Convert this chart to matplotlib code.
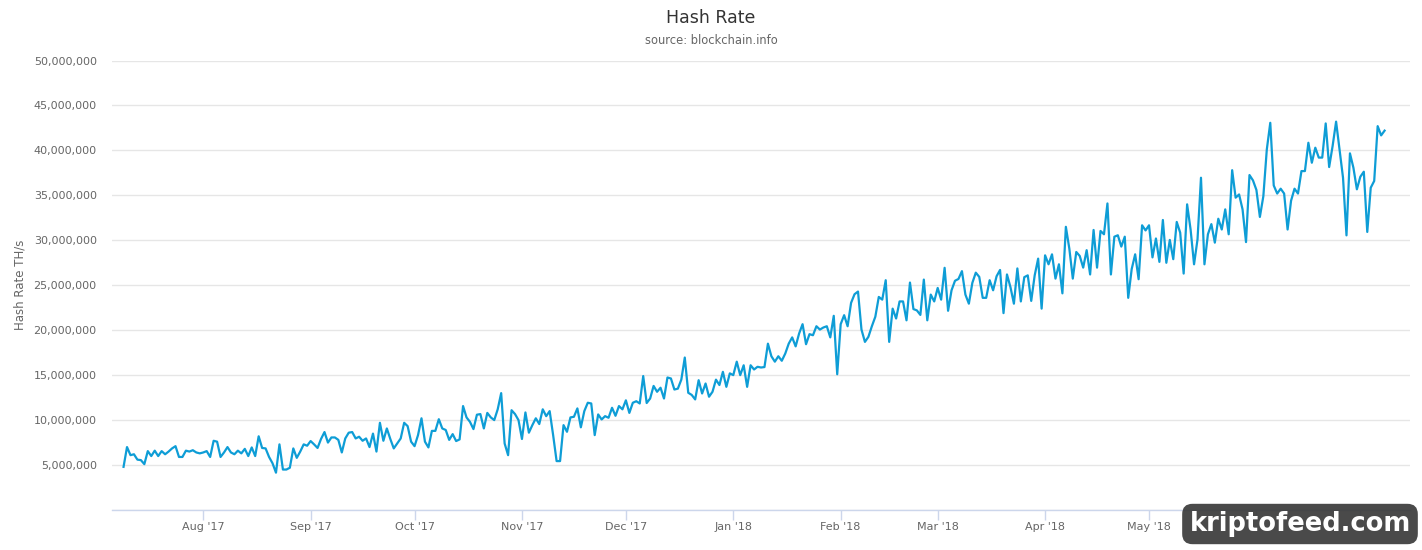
import matplotlib
matplotlib.use('Agg')
import matplotlib.pyplot as plt
import matplotlib.dates as mdates
from matplotlib.ticker import FuncFormatter, MultipleLocator
import numpy as np
import pandas as pd

# ---------------- data (hash rate, millions of TH/s, daily) ----------------
start_date = '2017-07-09'
scale = 1_000_000

hash_jul_sep_2017 = [
    4.8, 7.0, 6.1, 6.2, 5.6, 5.55, 5.1, 6.55, 6.0, 6.6,
    6.0, 6.55, 6.2, 6.5, 6.85, 7.1, 5.9, 5.9, 6.6, 6.5,
    6.65, 6.4, 6.3, 6.4, 6.55, 5.9, 7.7, 7.6, 5.9, 6.4,
    7.0, 6.4, 6.2, 6.6, 6.3, 6.8, 6.0, 6.96, 6.0, 8.2,
    6.9, 6.85, 5.9, 5.2, 4.15, 7.3, 4.5, 4.5, 4.7, 6.85,
    5.8, 6.5, 7.3, 7.15, 7.67, 7.3, 6.9, 7.9, 8.67, 7.5,
    8.07, 8.07, 7.8, 6.4, 7.96, 8.6, 8.67, 7.96, 8.15, 7.7,
    7.96, 7.0, 8.5, 6.5, 9.7, 7.7, 9.07, 7.9, 6.85, 7.4,
    7.96, 9.7, 9.33, 7.6,
]
hash_oct_dec_2017 = [
    7.1, 8.33, 10.2, 7.6, 6.96, 8.8, 8.8, 10.1, 9.07, 8.9,
    7.8, 8.44, 7.67, 7.85, 11.56, 10.3, 9.8, 9.0, 10.6, 10.67,
    9.07, 10.8, 10.3, 10.0, 11.2, 13.0, 7.4, 6.1, 11.1, 10.67,
    10.0, 7.9, 10.85, 8.6, 9.44, 10.2, 9.56, 11.2, 10.44, 11.0,
    8.33, 5.44, 5.44, 9.44, 8.7, 10.3, 10.37, 11.3, 9.2, 11.0,
    11.93, 11.85, 8.33, 10.63, 10.07, 10.44, 10.26, 11.37, 10.48, 11.56,
    11.2, 12.2, 10.8, 11.93, 12.1, 11.85, 14.9, 11.9, 12.4, 13.8,
    13.15, 13.6, 12.4, 14.74, 14.63, 13.4, 13.5, 14.5, 16.96, 13.04,
    12.8, 12.3, 14.44, 12.96, 14.07, 12.6, 13.15, 14.5, 13.9, 15.37,
    13.7, 15.2,
]
hash_jan_mar_2018 = [
    15.0, 16.5, 15.0, 16.1, 13.7, 16.1, 15.63, 15.93, 15.85, 15.9,
    18.5, 17.1, 16.5, 17.1, 16.6, 17.4, 18.5, 19.2, 18.2, 19.63,
    20.67, 18.44, 19.56, 19.44, 20.44, 20.07, 20.3, 20.44, 19.2, 21.6,
    15.1, 20.67, 21.67, 20.44, 23.04, 24.0, 24.3, 20.07, 18.7, 19.26,
    20.44, 21.5, 23.7, 23.4, 25.56, 18.7, 22.4, 21.3, 23.2, 23.2,
    21.1, 25.3, 22.35, 22.2, 21.7, 25.63, 21.1, 23.96, 23.2, 24.7,
    23.4, 26.94, 22.16, 24.44, 25.5, 25.7, 26.57, 23.96, 22.95, 25.26,
    26.4, 25.93, 23.6, 23.6, 25.56, 24.44, 26.0, 26.7, 21.9, 26.2,
    24.8, 22.95, 26.87, 23.2, 25.9, 26.1, 23.26, 26.1, 27.96, 22.4,
]
hash_apr_jun_2018 = [
    28.33, 27.33, 28.44, 25.74, 27.33, 24.1, 31.5, 29.07, 25.74, 28.7,
    28.26, 26.96, 28.9, 26.2, 31.15, 26.96, 31.04, 30.67, 34.1, 26.2,
    30.4, 30.56, 29.3, 30.4, 23.6, 26.8, 28.44, 25.67, 31.67, 31.1,
    31.67, 28.1, 30.2, 27.6, 32.26, 27.5, 30.04, 27.9, 32.04, 30.85,
    26.3, 34.0, 31.2, 27.33, 30.1, 36.96, 27.33, 30.67, 31.8, 29.74,
    32.4, 31.2, 33.44, 30.67, 37.8, 34.74, 35.1, 33.44, 29.8, 37.26,
    36.67, 35.6, 32.6, 34.9, 40.1, 43.07, 36.1, 35.2, 35.74, 35.2,
    31.2, 34.4, 35.74, 35.2, 37.7, 37.7, 40.85, 38.63, 40.3, 39.2,
    39.2, 43.0, 38.15, 40.5, 43.2, 40.1, 36.96, 30.55, 39.67, 38.07,
    35.67,
]
hash_jul_2018 = [37.07, 37.63, 30.93, 35.85, 36.6, 42.7, 41.67, 42.2]

title_text = 'Hash Rate'
subtitle_text = 'source: blockchain.info'
y_label = 'Hash Rate TH/s'
watermark_text = 'kriptofeed.com'
# month labels hidden behind the watermark in the reference
hidden_months = ["Jun '18", "Jul '18"]

values = np.array(hash_jul_sep_2017 + hash_oct_dec_2017 + hash_jan_mar_2018
                  + hash_apr_jun_2018 + hash_jul_2018) * scale
dates = pd.date_range(start_date, periods=len(values), freq='D')

# ---------------- figure ----------------
plt.rcParams['font.family'] = ['DejaVu Sans']
fig = plt.figure(figsize=(14.22, 5.5), dpi=100)
ax = fig.add_axes([112 / 1422, 1 - 510 / 550, (1410 - 112) / 1422, (510 - 60.5) / 550])

ax.plot(dates, values, color='#0e9dd6', lw=1.6, solid_joinstyle='round', zorder=3)

ax.set_ylim(0, 50 * scale)
ax.set_xlim(pd.Timestamp('2017-07-05 16:00'), pd.Timestamp('2018-07-15 08:00'))

ax.yaxis.set_major_locator(MultipleLocator(5 * scale))
ax.yaxis.set_major_formatter(FuncFormatter(lambda v, p: '' if v <= 0 else f'{int(round(v)):,}'))
ax.grid(axis='y', color='#e6e6e6', lw=1)
ax.set_axisbelow(True)


def month_fmt(v, p):
    s = mdates.num2date(v).strftime("%b '%y")
    return '' if s in hidden_months else s


ax.xaxis.set_major_locator(mdates.MonthLocator())
ax.xaxis.set_major_formatter(FuncFormatter(month_fmt))

for s in ['top', 'right', 'left']:
    ax.spines[s].set_visible(False)
ax.spines['bottom'].set_color('#ccd6eb')
ax.spines['bottom'].set_linewidth(1)

ax.tick_params(axis='y', length=0, pad=11, labelsize=8, labelcolor='#666666')
ax.tick_params(axis='x', length=7, width=1, color='#ccd6eb', pad=2, labelsize=8,
               labelcolor='#666666')

fig.text(20 / 1422, 1 - 285 / 550, y_label, rotation=90, ha='center', va='center',
         fontsize=8.5, color='#666666')

fig.text(0.5, 1 - 18 / 550, title_text, ha='center', va='center', fontsize=12.5, color='#333333')
fig.text(0.5, 1 - 41 / 550, subtitle_text, ha='center', va='center', fontsize=8.3, color='#666666')

# watermark
fig.text(1300 / 1422, 1 - 524 / 550, watermark_text, ha='center', va='center',
         fontsize=18.5, fontweight='bold', color='white', zorder=10,
         bbox=dict(boxstyle='round,pad=0.28,rounding_size=0.4', fc='#3a3a3a', ec='none', alpha=0.92))

fig.savefig('out.png', dpi=100)
